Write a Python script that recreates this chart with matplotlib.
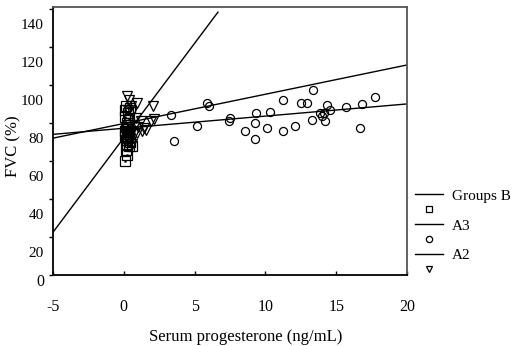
import numpy as np
import matplotlib
matplotlib.use("Agg")
import matplotlib.pyplot as plt
from matplotlib.lines import Line2D

plt.rcParams['font.family'] = ['Liberation Serif', 'DejaVu Serif']

# ---- data ----
# Groups B (squares), near zero progesterone
b_x = [0.15, 0.10, 0.45, 0.30, 0.20, 0.15, 0.25, 0.10, 0.35, 0.20, 0.05, 0.30,
       0.15, 0.45, 0.25, 0.35, 0.60, 0.15, 0.20, 0.10, 0.30, 0.40, 0.05]
b_y = [97, 95, 96, 93, 88, 86, 85, 84, 83, 82, 81, 80,
       79, 78, 77, 76, 76, 74, 71, 68, 87, 90, 91]

# A3 (circles)
a3_x = [3.31, 3.55, 5.15, 5.85, 6.02, 7.50, 7.45, 9.34, 9.27, 8.56, 9.27, 10.13,
        10.35, 11.24, 11.24, 12.07, 12.54, 12.96, 13.34, 13.27, 13.86, 14.14,
        14.00, 14.37, 14.54, 14.23, 15.69, 16.82, 16.68, 17.72]
a3_y = [92.3, 78.3, 86.3, 98.7, 96.8, 90.4, 89.0, 93.0, 88.1, 83.8, 79.8, 85.6,
        93.8, 100.0, 83.8, 86.2, 98.6, 98.6, 105.3, 89.8, 93.0, 93.3,
        91.6, 97.7, 94.7, 88.9, 96.2, 98.1, 85.6, 101.4]

# A2 (triangles)
a2_x = [0.20, 0.35, 0.90, 0.50, 2.05, 0.30, 0.60, 0.85, 1.20, 2.10, 1.90, 0.40,
        0.70, 1.60, 1.30, 0.95, 0.70, 0.50, 0.30, 0.40, 0.60, 0.20, 1.00, 1.40]
a2_y = [102, 100, 98.5, 97, 97, 95, 94, 90.5, 89, 90, 89, 88,
        86, 84.5, 83.5, 82.5, 82, 84, 80, 78, 77, 85, 86, 85.5]

# fitted lines: intercept, slope, x range
fit_names = ['Groups B', 'A3', 'A2']
fit_intercept = [80.2, 85.2, 87.7]
fit_slope = [9.94, 0.64, 1.54]
fit_xmax = [6.65, 20, 20]

x_ticks = [-5, 0, 5, 10, 15, 20]
y_labels = [20, 40, 60, 80, 100, 120, 140]

# ---- figure ----
fig = plt.figure(figsize=(5.16, 3.46), dpi=100)
ax = fig.add_axes([53/516, 71/346, 354/516, 268/346])

for b, m, xm in zip(fit_intercept, fit_slope, fit_xmax):
    xx = np.array([-5, xm])
    ax.plot(xx, b + m * xx, color='black', lw=1.0)

ax.plot(b_x, b_y, ls='none', marker='s', ms=6.5, mfc='none', mec='black', mew=0.9)
ax.plot(b_x, b_y, ls='none', marker='s', ms=1.3, mfc='black', mec='black', mew=0.3)
ax.plot(a3_x, a3_y, ls='none', marker='o', ms=5.8, mfc='none', mec='black', mew=0.9)
ax.plot(a2_x, a2_y, ls='none', marker='v', ms=7, mfc='none', mec='black', mew=0.9)

ax.set_xlim(-5, 20)
ax.set_ylim(8, 149)

ax.set_xticks(x_ticks)
ax.set_xticklabels([str(t) for t in x_ticks])
ax.tick_params(axis='x', direction='in', length=3, width=1, pad=17, labelsize=11.5)

# tick marks and labels are offset in the original chart
ax.set_yticks([v - 12 for v in y_labels] + [148])
ax.set_yticklabels([])
ax.set_yticks(y_labels, minor=True)
ax.set_yticklabels([str(v) for v in y_labels], minor=True)
ax.tick_params(axis='y', which='major', direction='out', length=3, width=1)
ax.tick_params(axis='y', which='minor', length=0, pad=6.5, labelsize=11)
ax.text(-0.023, 4.2, '0', transform=ax.get_yaxis_transform(), ha='right',
        va='center', fontsize=11.5, clip_on=False)

for s in ['left', 'bottom']:
    ax.spines[s].set_color('black')
    ax.spines[s].set_linewidth(1.3)
for s in ['top', 'right']:
    ax.spines[s].set_color('#555555')
    ax.spines[s].set_linewidth(1.3)

ax.set_xlabel('Serum progesterone (ng/mL)', fontsize=12)
ax.xaxis.set_label_coords(0.545, -0.2)
ax.set_ylabel('FVC (%)', fontsize=12)
ax.yaxis.set_label_coords(-0.088, 0.479)

handles = [
    Line2D([], [], color='black', lw=1.0),
    Line2D([], [], ls='none', marker='s', ms=4.5, mfc='none', mec='black', mew=0.9),
    Line2D([], [], color='black', lw=1.0),
    Line2D([], [], ls='none', marker='o', ms=4.5, mfc='none', mec='black', mew=0.9),
    Line2D([], [], color='black', lw=1.0),
    Line2D([], [], ls='none', marker='v', ms=5, mfc='none', mec='black', mew=0.9),
]
labels = ['Groups B', ' ', 'A3', ' ', 'A2', ' ']
fig.legend(handles, labels, loc='upper left', bbox_to_anchor=(415/516, 1 - 189/346),
           frameon=False, fontsize=11, handlelength=1.8, handletextpad=0.6,
           labelspacing=0.08, borderpad=0, borderaxespad=0)

fig.savefig('out.png', dpi=100)
